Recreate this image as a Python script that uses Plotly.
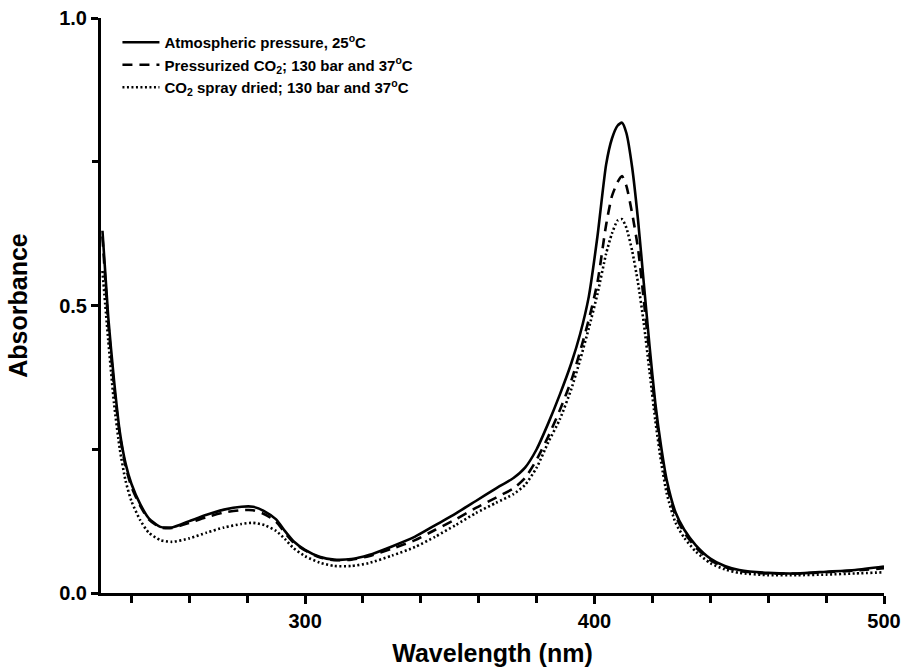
import plotly.graph_objects as go

wavelength = [230, 232, 234, 236, 238, 240, 243, 246, 250, 254, 260, 266, 272, 278, 282, 286,
              290, 293, 296, 300, 305, 310, 316, 322, 330, 338, 345, 352, 359, 366, 372, 376,
              380, 384, 388, 392, 395, 398, 401, 404, 406, 408, 409.5, 411, 413, 415, 417, 419,
              421, 423, 425, 428, 431, 435, 440, 445, 450, 460, 470, 480, 490, 500]

atmospheric = [0.63, 0.48, 0.37, 0.28, 0.225, 0.19, 0.155, 0.13, 0.115, 0.114, 0.125, 0.136,
               0.145, 0.150, 0.150, 0.142, 0.128, 0.108, 0.090, 0.075, 0.063, 0.058, 0.059,
               0.066, 0.081, 0.098, 0.118, 0.138, 0.160, 0.182, 0.200, 0.218, 0.250, 0.295,
               0.345, 0.400, 0.450, 0.515, 0.620, 0.745, 0.790, 0.813, 0.818, 0.800, 0.740,
               0.650, 0.540, 0.430, 0.330, 0.255, 0.195, 0.140, 0.110, 0.083, 0.060, 0.047,
               0.040, 0.035, 0.034, 0.037, 0.040, 0.046]

pressurized = [0.62, 0.47, 0.36, 0.275, 0.22, 0.185, 0.152, 0.128, 0.114, 0.113, 0.122, 0.132,
               0.140, 0.144, 0.144, 0.137, 0.124, 0.105, 0.088, 0.074, 0.062, 0.057, 0.058,
               0.064, 0.077, 0.092, 0.110, 0.128, 0.148, 0.166, 0.182, 0.200, 0.232, 0.272,
               0.318, 0.370, 0.420, 0.475, 0.540, 0.640, 0.690, 0.715, 0.725, 0.708, 0.660,
               0.600, 0.510, 0.415, 0.320, 0.245, 0.187, 0.134, 0.105, 0.079, 0.057, 0.045,
               0.038, 0.034, 0.034, 0.036, 0.039, 0.043]

spray_dried = [0.56, 0.44, 0.33, 0.25, 0.195, 0.16, 0.127, 0.105, 0.092, 0.089, 0.095, 0.105,
               0.114, 0.120, 0.122, 0.118, 0.108, 0.094, 0.078, 0.064, 0.053, 0.047, 0.047,
               0.052, 0.065, 0.080, 0.098, 0.118, 0.139, 0.157, 0.172, 0.188, 0.218, 0.262,
               0.302, 0.355, 0.405, 0.460, 0.520, 0.590, 0.625, 0.648, 0.650, 0.635, 0.595,
               0.540, 0.470, 0.385, 0.300, 0.228, 0.172, 0.122, 0.096, 0.072, 0.052, 0.041,
               0.035, 0.031, 0.031, 0.032, 0.034, 0.036]

names = ["Atmospheric pressure, 25<sup>o</sup>C",
         "Pressurized CO<sub>2</sub>; 130 bar and 37<sup>o</sup>C",
         "CO<sub>2</sub> spray dried; 130 bar and 37<sup>o</sup>C"]
dashes = ["solid", "10px,7px", "2px,2.5px"]

FONT = "Liberation Sans, Arial, sans-serif"

fig = go.Figure()
for y, name, dash in zip([atmospheric, pressurized, spray_dried], names, dashes):
    fig.add_trace(go.Scatter(x=wavelength, y=y, mode="lines", name=name,
                             line=dict(color="black", width=2.6, dash=dash, shape="spline", smoothing=0.6)))

axis_common = dict(showline=True, linecolor="black", linewidth=3, ticks="outside",
                   tickwidth=3, tickcolor="black", showgrid=False, zeroline=False,
                   mirror=False, automargin=False,
                   tickfont=dict(family=FONT, size=20, color="black", weight="bold"))

fig.update_layout(
    width=905, height=667,
    margin=dict(l=101, r=21, t=18, b=74),
    plot_bgcolor="white", paper_bgcolor="white",
    showlegend=True,
    legend=dict(x=0.021, y=0.986, xanchor="left", yanchor="top", bgcolor="rgba(0,0,0,0)",
                font=dict(family=FONT, size=15, color="black", weight="bold"),
                tracegroupgap=0, itemwidth=37),
    xaxis=dict(range=[229.5, 500], tickvals=[300, 400, 500], ticklen=8,
               minor=dict(dtick=20, tick0=0, ticks="outside", ticklen=7, tickwidth=3, tickcolor="black"),
               title=dict(text="Wavelength (nm)", standoff=18,
                          font=dict(family=FONT, size=25, color="black", weight="bold")),
               **axis_common),
    yaxis=dict(range=[0, 1.0], tickvals=[0, 0.5, 1.0], ticktext=["0.0", "0.5", "1.0"], ticklen=7,
               minor=dict(dtick=0.25, tick0=0, ticks="outside", ticklen=6, tickwidth=3, tickcolor="black"),
               title=dict(text="Absorbance", standoff=25,
                          font=dict(family=FONT, size=25, color="black", weight="bold")),
               **axis_common),
)

fig.write_html("out.html")
